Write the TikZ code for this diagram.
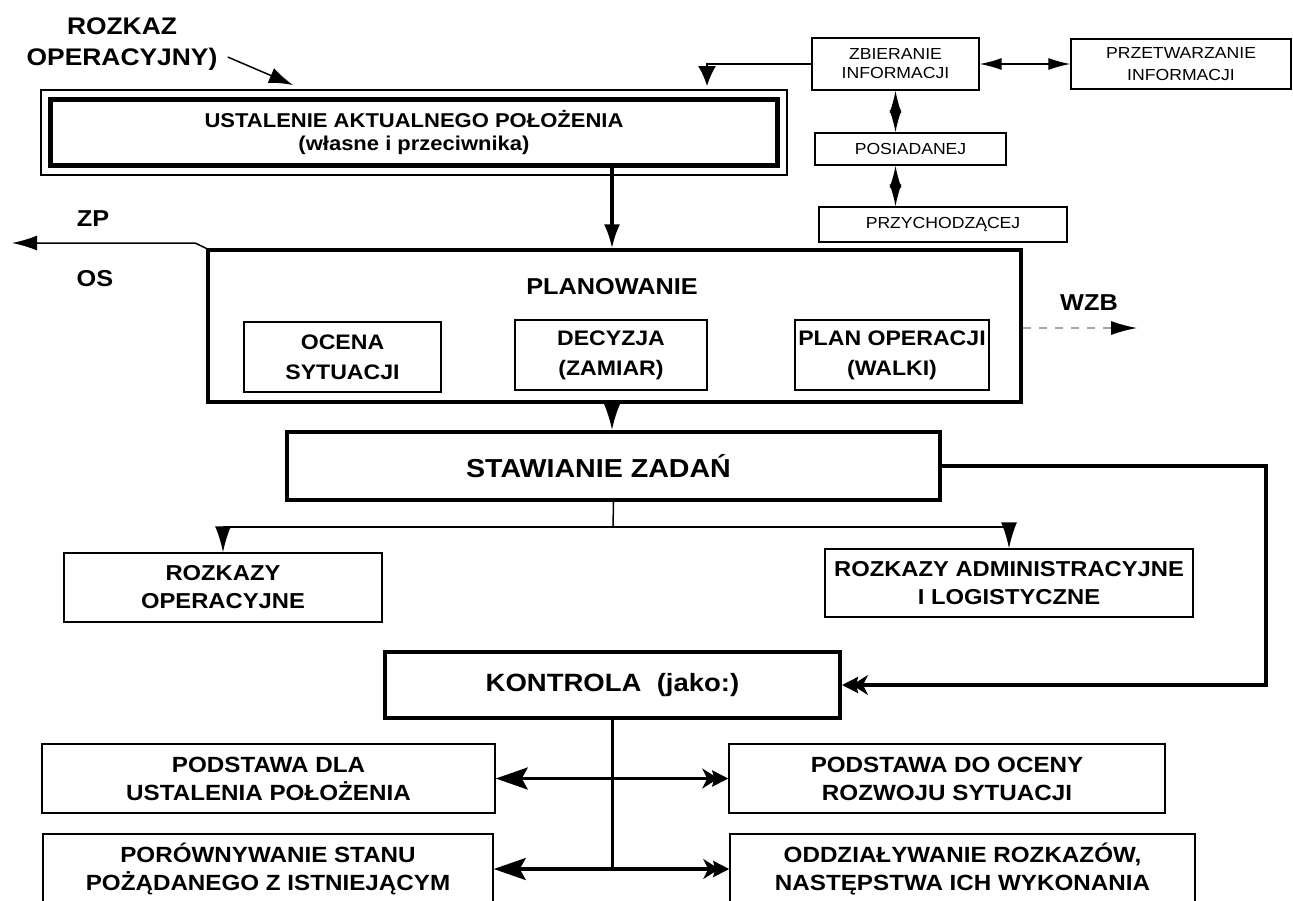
\documentclass[tikz,border=0pt]{standalone}
\usepackage{fontspec}
\newfontfamily\df{Liberation Sans}[FakeStretch=1.1]
\usetikzlibrary{arrows.meta,calc}
\newcommand\fsz[2]{\fontsize{#1}{#2}\selectfont}

\begin{document}
\begin{tikzpicture}[x=0.5pt,y=-0.5pt,
  every node/.style={inner sep=0pt, align=center},
  box/.style={draw, line width=0.75pt, font=\df\bfseries\fsz{10.5}{15}},
  heavy/.style={box, line width=1.7pt},
  small/.style={draw, line width=0.6pt, font=\df\fsz{8}{9.5}},
  lbl/.style={font=\df\bfseries\fsz{11.5}{15}},
  thinline/.style={line width=0.75pt},
  thickline/.style={line width=1.6pt},
  tri/.style={-{Latex[length=12pt,width=8pt]}},
  dbl/.style={{Latex[length=11pt,width=6pt]}-{Latex[length=11pt,width=6pt]}},
  big/.style={-{Stealth[length=16pt,width=11pt,inset=3pt]}},
  dart/.style={-{Stealth[length=8pt,width=10pt,inset=2.5pt,sep=-3pt]Stealth[length=8pt,width=8pt,inset=1pt]}}
]
% page
\path[use as bounding box, fill=white] (0,0) rectangle (1293,900);

% --- situation assessment (double frame) ---
\node[heavy, line width=2.5pt, minimum width=363.75pt, minimum height=33pt,
      font=\df\bfseries\fsz{10}{11.5}] (ust) at (414,132.5)
      {USTALENIE AKTUALNEGO POŁOŻENIA\\(własne i przeciwnika)};
\draw[line width=1pt] ($(ust.south west)+(-7,7)$) rectangle ($(ust.north east)+(7,-7)$);

\node[lbl, font=\df\bfseries\fsz{12}{15.5}] (rozkaz) at (122,44) {ROZKAZ\\OPERACYJNY)};
\coordinate (rzend) at (293,85);
\draw[thinline, -{Latex[length=12pt,width=8pt]}] ($(rozkaz.east)+(10,13)$) -- (rzend);

% --- information cluster ---
\node[small, minimum width=83.5pt, minimum height=26pt] (zb) at (895.5,64) {ZBIERANIE\\INFORMACJI};
\node[small, minimum width=110pt, minimum height=25pt, font=\df\fsz{8}{11}] (prz) at (1181,64) {PRZETWARZANIE\\INFORMACJI};
\node[small, minimum width=95.5pt, minimum height=16pt] (pos) at (910.5,149) {POSIADANEJ};
\node[small, minimum width=124pt, minimum height=17.5pt] (przy) at (943,224.5) {PRZYCHODZĄCEJ};

\draw[thinline, dbl] (zb.east) -- (prz.west);
\draw[thinline, dbl] (zb.south) -- (zb.south |- pos.north);
\draw[thinline, dbl] (zb.south |- pos.south) -- (zb.south |- przy.north);
\coordinate (zbc) at (707,64);
\coordinate (zbe) at (707,86);
\draw[thinline, -{Latex[length=10pt,width=9pt]}] (zb.west) -- (zbc) -- (zbe);

% --- planning ---
\node[heavy, line width=1.6pt, minimum width=406.5pt, minimum height=76pt] (planowanie) at (614.5,326) {};
\node[lbl] (plantitle) at (612,287) {PLANOWANIE};
\node[box, minimum width=98.5pt, minimum height=35pt] (ocena) at (342.5,357) {OCENA\\SYTUACJI};
\node[box, minimum width=96pt, minimum height=35pt] (decyzja) at (611,355) {DECYZJA\\(ZAMIAR)};
\node[box, minimum width=97pt, minimum height=35pt] (plan) at (892,355) {PLAN OPERACJI\\(WALKI)};

\draw[thickline, tri] (ust.south -| plantitle.north) -- (plantitle.north |- planowanie.north);

\node[lbl] (zp) at (93,219) {ZP};
\node[lbl] (os) at (95,279) {OS};
\coordinate (zpbend) at (195,243);
\coordinate (zpend) at (12,243);
\draw[thinline, -{Latex[length=12.5pt,width=7.5pt]}] (planowanie.north west) -- (zpbend) -- (zpend);

\node[lbl] (wzb) at (1089,303) {WZB};
\coordinate (wzbend) at (1137,328);
\draw[gray!70, line width=0.6pt, dash pattern=on 4pt off 4pt,
      -{Latex[length=13pt,width=7pt,color=black]}] ($(planowanie.east)+(0,2)$) -- (wzbend);

% --- tasking ---
\node[heavy, line width=2pt, minimum width=326.5pt, minimum height=34pt,
      font=\df\bfseries\fsz{13}{15}] (stawianie) at (613.5,466) {\hspace*{-15pt}STAWIANIE ZADAŃ};
\draw[thickline, -{Latex[length=15pt,width=10pt]}] (planowanie.south -| plantitle.south) -- (stawianie.north -| plantitle.south);

\node[box, minimum width=159pt, minimum height=34.5pt, font=\df\bfseries\fsz{10.8}{14}] (rozop) at (223,587.5) {ROZKAZY\\OPERACYJNE};
\node[box, minimum width=184pt, minimum height=34pt, font=\df\bfseries\fsz{10.8}{14}] (rozadm) at (1009,583) {ROZKAZY ADMINISTRACYJNE\\I LOGISTYCZNE};

\coordinate (br) at (613,527);
\draw[thinline] (stawianie.south) -- (br);
\draw[thinline, -{Latex[length=13pt,width=8pt]}] (br) -| (rozop.north);
\draw[thinline, -{Latex[length=13pt,width=8pt]}] (br) -| (rozadm.north);

% --- control ---
\node[heavy, line width=2pt, minimum width=227.5pt, minimum height=33pt,
      font=\df\bfseries\fsz{12.5}{15}] (kontrola) at (612.5,685) {KONTROLA~~(jako:)};
\coordinate (rt) at (1266,466);
\draw[thickline, dart] (stawianie.east) -- (rt) |- (kontrola.east);

\node[box, minimum width=226.5pt, minimum height=34.5pt, font=\df\bfseries\fsz{11}{14}] (pdla) at (268.5,778.5) {PODSTAWA DLA\\USTALENIA POŁOŻENIA};
\node[box, minimum width=218pt, minimum height=34.5pt, font=\df\bfseries\fsz{11}{14}] (pdo) at (947,778.5) {PODSTAWA DO OCENY\\ROZWOJU SYTUACJI};
\node[box, minimum width=225pt, minimum height=35pt, font=\df\bfseries\fsz{11}{14}] (porown) at (268,869) {PORÓWNYWANIE STANU\\POŻĄDANEGO Z ISTNIEJĄCYM};
\node[box, minimum width=232.5pt, minimum height=35pt, font=\df\bfseries\fsz{11}{14}] (oddz) at (962.5,869) {ODDZIAŁYWANIE ROZKAZÓW,\\NASTĘPSTWA ICH WYKONANIA};

\coordinate (kb1) at (kontrola.south |- pdla.east);
\coordinate (kb2) at (kontrola.south |- porown.east);
\draw[thickline] (kontrola.south) -- (kb2);
\draw[thickline, big] (kb1) -- (pdla.east);
\draw[thickline, dart] (kb1) -- (pdo.west);
\draw[thickline, big] (kb2) -- (porown.east);
\draw[thickline, dart] (kb2) -- (oddz.west);
\end{tikzpicture}
\end{document}
